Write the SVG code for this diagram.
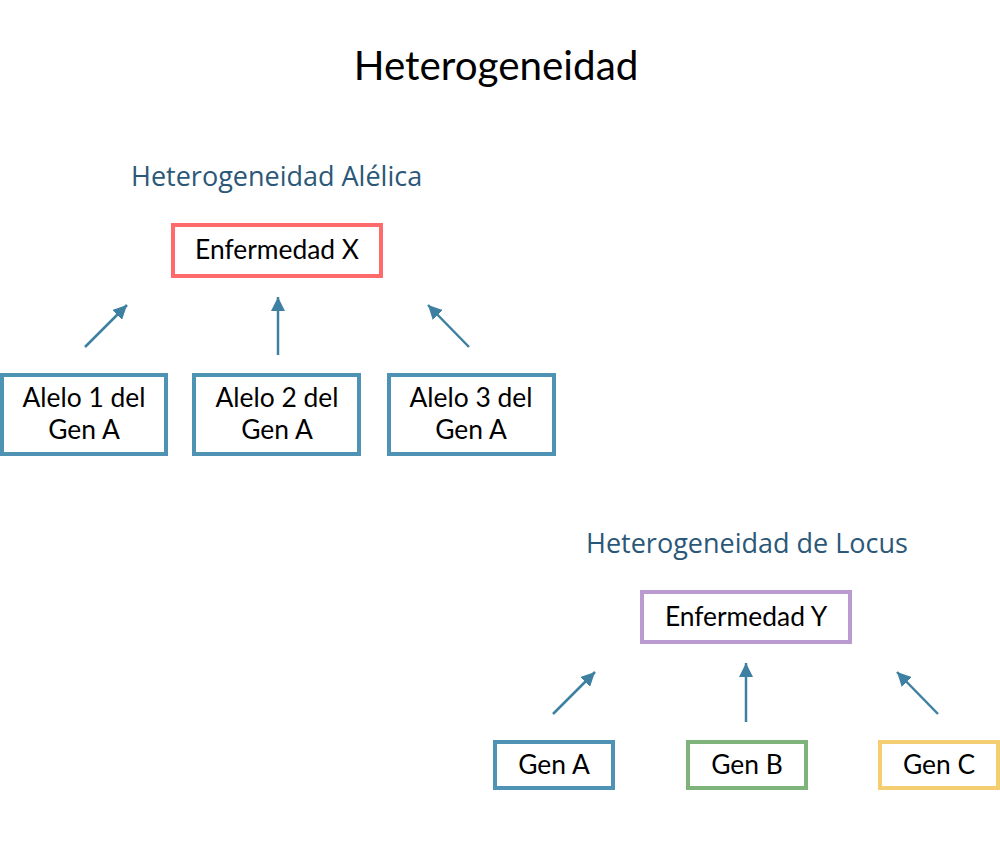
<svg xmlns="http://www.w3.org/2000/svg" width="1000" height="868" viewBox="0 0 1000 868">
<style>
.t{font-family:Lato,"Open Sans","Liberation Sans",sans-serif;font-size:26.4px;fill:#000;text-anchor:middle}
.h{font-family:Lato,"Liberation Sans",sans-serif;font-size:40.4px;fill:#000;text-anchor:middle}
.s{font-family:"Open Sans","Noto Sans","Liberation Sans",sans-serif;font-size:27px;fill:#2B5878}
.b{fill:#fff;stroke-width:4}
.blue{stroke:#4E93B4}
.red{stroke:#FF6B6B}
.pur{stroke:#B99BD2}
.grn{stroke:#7EB37C}
.yel{stroke:#F5CE72}
.c{stroke:#3E80A1;stroke-width:2.5;fill:none;marker-end:url(#ah)}
</style>
<defs>
<marker id="ah" markerUnits="userSpaceOnUse" markerWidth="16" markerHeight="14" refX="14" refY="7" orient="auto">
<path d="M0,0 L14,7 L0,14 Z" fill="#3E80A1"/>
</marker>
</defs>
<rect width="1000" height="868" fill="#fff"/>
<text class="h" x="496" y="80">Heterogeneidad</text>
<text class="s" x="131" y="186">Heterogeneidad Alélica</text>
<text class="s" x="586" y="553">Heterogeneidad de Locus</text>
<g id="connectors">
<line class="c" x1="85" y1="347" x2="127" y2="305"/>
<line class="c" x1="278" y1="355" x2="278" y2="297"/>
<line class="c" x1="469" y1="347" x2="428" y2="305"/>
<line class="c" x1="553" y1="714" x2="595" y2="672"/>
<line class="c" x1="746" y1="722" x2="746" y2="663"/>
<line class="c" x1="938" y1="714" x2="897" y2="672"/>
</g>
<g id="enfermedadX"><rect class="b red" x="173" y="225" width="208" height="51"/><text class="t" x="277" y="259">Enfermedad X</text></g>
<g id="alelo1"><rect class="b blue" x="2" y="375" width="164" height="79"/><text class="t" x="84" y="407">Alelo 1 del</text><text class="t" x="84" y="439">Gen A</text></g>
<g id="alelo2"><rect class="b blue" x="194" y="375" width="165" height="79"/><text class="t" x="277" y="407">Alelo 2 del</text><text class="t" x="277" y="439">Gen A</text></g>
<g id="alelo3"><rect class="b blue" x="389" y="375" width="165" height="79"/><text class="t" x="471" y="407">Alelo 3 del</text><text class="t" x="471" y="439">Gen A</text></g>
<g id="enfermedadY"><rect class="b pur" x="642" y="592" width="208" height="50"/><text class="t" x="746" y="626">Enfermedad Y</text></g>
<g id="genA"><rect class="b blue" x="495" y="742" width="118" height="46"/><text class="t" x="554" y="774">Gen A</text></g>
<g id="genB"><rect class="b grn" x="688" y="742" width="118" height="46"/><text class="t" x="747" y="774">Gen B</text></g>
<g id="genC"><rect class="b yel" x="880" y="742" width="118" height="46"/><text class="t" x="939" y="774">Gen C</text></g>
</svg>
